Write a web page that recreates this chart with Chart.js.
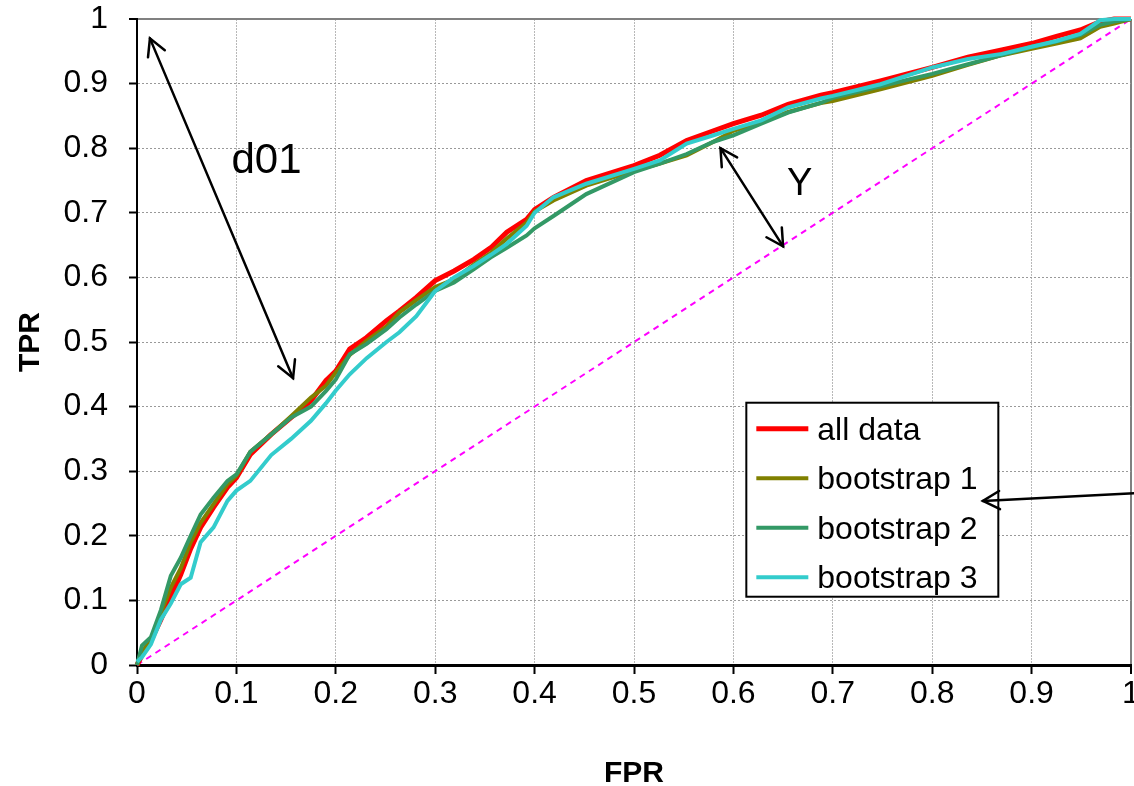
<!DOCTYPE html>
<html>
<head>
<meta charset="utf-8">
<script src="https://cdn.jsdelivr.net/npm/chart.js@4.4.1/dist/chart.umd.min.js"></script>
<style>
  html, body { margin: 0; padding: 0; background: #fff; }
  #wrap { width: 1134px; height: 786px; }
</style>
</head>
<body>
<div id="wrap"><canvas id="roc" width="1134" height="786"></canvas></div>
<script>
// FPR grid shared by the four ROC curves
const fpr = [0, 0.005, 0.014, 0.024, 0.034, 0.044, 0.054, 0.064, 0.077, 0.091, 0.1, 0.114, 0.135, 0.155, 0.175, 0.19, 0.2, 0.214, 0.231, 0.251, 0.264, 0.281, 0.3, 0.319, 0.339, 0.356, 0.372, 0.392, 0.4, 0.419, 0.452, 0.5, 0.526, 0.553, 0.58, 0.6, 0.628, 0.655, 0.688, 0.7, 0.748, 0.8, 0.836, 0.87, 0.9, 0.925, 0.949, 0.969, 0.983, 1];

const tprAll = [0, 0.015, 0.038, 0.07, 0.105, 0.14, 0.18, 0.213, 0.244, 0.275, 0.29, 0.326, 0.357, 0.383, 0.409, 0.44, 0.455, 0.489, 0.507, 0.533, 0.548, 0.569, 0.595, 0.61, 0.628, 0.646, 0.67, 0.69, 0.705, 0.724, 0.75, 0.773, 0.789, 0.812, 0.827, 0.838, 0.851, 0.868, 0.882, 0.886, 0.904, 0.925, 0.941, 0.952, 0.962, 0.973, 0.983, 0.996, 1, 1];
const tprBoot1 = [0, 0.02, 0.04, 0.08, 0.12, 0.15, 0.19, 0.22, 0.249, 0.28, 0.293, 0.33, 0.357, 0.385, 0.414, 0.432, 0.453, 0.48, 0.502, 0.524, 0.546, 0.565, 0.585, 0.597, 0.62, 0.638, 0.66, 0.685, 0.702, 0.719, 0.742, 0.765, 0.776, 0.789, 0.81, 0.827, 0.84, 0.856, 0.87, 0.873, 0.891, 0.912, 0.929, 0.944, 0.954, 0.962, 0.97, 0.988, 0.993, 1];
const tprBoot2 = [0, 0.03, 0.043, 0.085, 0.138, 0.166, 0.2, 0.233, 0.259, 0.285, 0.295, 0.33, 0.357, 0.383, 0.4, 0.424, 0.442, 0.481, 0.497, 0.52, 0.538, 0.558, 0.579, 0.592, 0.613, 0.631, 0.646, 0.665, 0.676, 0.695, 0.729, 0.763, 0.776, 0.791, 0.81, 0.82, 0.838, 0.855, 0.87, 0.878, 0.896, 0.915, 0.93, 0.944, 0.957, 0.965, 0.975, 0.991, 0.996, 1];
const tprBoot3 = [0.005, 0.012, 0.032, 0.07, 0.095, 0.125, 0.135, 0.19, 0.213, 0.254, 0.27, 0.285, 0.325, 0.35, 0.378, 0.405, 0.425, 0.45, 0.475, 0.5, 0.515, 0.54, 0.579, 0.6, 0.618, 0.635, 0.652, 0.68, 0.7, 0.724, 0.745, 0.768, 0.781, 0.807, 0.82, 0.83, 0.843, 0.863, 0.877, 0.881, 0.899, 0.925, 0.938, 0.946, 0.957, 0.966, 0.977, 0.998, 1, 1];

const diagX = [0, 1];
const diagY = [0, 1];

const seriesNames = ['all data', 'bootstrap 1', 'bootstrap 2', 'bootstrap 3'];
const seriesColors = ['#ff0000', '#808000', '#339966', '#33cccc'];
const seriesWidths = [5, 4, 4, 4];
const seriesTpr = [tprAll, tprBoot1, tprBoot2, tprBoot3];

const tickValues = [0, 0.1, 0.2, 0.3, 0.4, 0.5, 0.6, 0.7, 0.8, 0.9, 1];

function pts(xs, ys) {
    return xs.map((x, i) => ({ x: x, y: ys[i] }));
}

const datasets = seriesNames.map((name, i) => ({
    label: name,
    data: pts(fpr, seriesTpr[i]),
    borderColor: seriesColors[i],
    backgroundColor: seriesColors[i],
    borderWidth: seriesWidths[i],
    pointRadius: 0,
    tension: 0,
    clip: false,
    order: 4 - i
}));
datasets.push({
    label: 'random',
    data: pts(diagX, diagY),
    borderColor: '#ff00ff',
    borderWidth: 2,
    borderDash: [6, 5],
    pointRadius: 0,
    clip: false,
    order: 10
});

// arrows and labels, in data units
const arrows = [
    { from: [0.157, 0.444], to: [0.013, 0.97], both: true },
    { from: [0.65, 0.648], to: [0.587, 0.80], both: true },
    { from: [1.003, 0.266], to: [0.851, 0.254], both: false }
];
const notes = [
    { text: 'd01', at: [0.095, 0.762], size: 42 },
    { text: 'Y', at: [0.654, 0.728], size: 38 }
];

function head(ctx, x1, y1, x2, y2) {
    const a = Math.atan2(y2 - y1, x2 - x1);
    const len = 19, spread = 0.5;
    ctx.beginPath();
    ctx.moveTo(x2 - len * Math.cos(a - spread), y2 - len * Math.sin(a - spread));
    ctx.lineTo(x2, y2);
    ctx.lineTo(x2 - len * Math.cos(a + spread), y2 - len * Math.sin(a + spread));
    ctx.stroke();
}

const overlay = {
    id: 'overlay',
    afterDatasetsDraw(chart) {
        const ctx = chart.ctx;
        const xs = chart.scales.x, ys = chart.scales.y;
        ctx.save();

        // legend box
        const bx = xs.getPixelForValue(0.613), by = ys.getPixelForValue(0.406);
        const bw = 252, bh = 194;
        ctx.fillStyle = '#fff';
        ctx.fillRect(bx, by, bw, bh);
        ctx.strokeStyle = '#000';
        ctx.lineWidth = 2;
        ctx.strokeRect(bx, by, bw, bh);
        ctx.font = '32px "Liberation Sans", Arial, sans-serif';
        ctx.textBaseline = 'middle';
        seriesNames.forEach((name, i) => {
            const ry = by + 26 + i * 49.5;
            ctx.strokeStyle = seriesColors[i];
            ctx.lineWidth = seriesWidths[i];
            ctx.beginPath();
            ctx.moveTo(bx + 10, ry);
            ctx.lineTo(bx + 62, ry);
            ctx.stroke();
            ctx.fillStyle = '#000';
            ctx.fillText(name, bx + 71, ry + 2);
        });

        ctx.strokeStyle = '#000';
        ctx.lineWidth = 2.5;
        ctx.lineCap = 'round';
        arrows.forEach(a => {
            const x1 = xs.getPixelForValue(a.from[0]), y1 = ys.getPixelForValue(a.from[1]);
            const x2 = xs.getPixelForValue(a.to[0]), y2 = ys.getPixelForValue(a.to[1]);
            ctx.beginPath();
            ctx.moveTo(x1, y1);
            ctx.lineTo(x2, y2);
            ctx.stroke();
            head(ctx, x1, y1, x2, y2);
            if (a.both) head(ctx, x2, y2, x1, y1);
        });
        ctx.fillStyle = '#000';
        ctx.textBaseline = 'alphabetic';
        notes.forEach(n => {
            ctx.font = n.size + 'px "Liberation Sans", Arial, sans-serif';
            ctx.fillText(n.text, xs.getPixelForValue(n.at[0]), ys.getPixelForValue(n.at[1]));
        });
        ctx.restore();
    }
};

const tickFont = { family: '"Liberation Sans", Arial, sans-serif', size: 32 };
const titleFont = { family: '"Liberation Sans", Arial, sans-serif', size: 30, weight: 'bold', lineHeight: 1 };
const fmt = v => String(Math.round(v * 10) / 10);

new Chart(document.getElementById('roc').getContext('2d'), {
    type: 'line',
    data: { datasets: datasets },
    options: {
        responsive: false,
        animation: false,
        devicePixelRatio: 1,
        layout: { padding: { top: 19, right: 3, left: 0, bottom: 0 } },
        plugins: { legend: { display: false }, tooltip: { enabled: false } },
        scales: {
            x: {
                type: 'linear',
                min: 0,
                max: 1,
                afterBuildTicks: s => { s.ticks = tickValues.map(v => ({ value: v })); },
                afterFit: s => { s.height = 121; s.paddingLeft = 0; s.paddingRight = 0; },
                ticks: { font: tickFont, color: '#000', padding: 1, maxRotation: 0, autoSkip: false, callback: fmt },
                grid: {
                    color: c => c.tick && c.tick.value === 1 ? '#808080' : '#b8b8b8',
                    lineWidth: c => c.tick && c.tick.value === 1 ? 2 : 1,
                    tickColor: '#000',
                    tickLength: 9,
                    tickWidth: 2
                },
                border: { display: true, color: '#000', width: 3, dash: c => c.tick && c.tick.value === 1 ? [] : [2, 1] },
                title: { display: true, text: 'FPR', font: titleFont, color: '#000', padding: { top: 0, bottom: -3 } }
            },
            y: {
                type: 'linear',
                min: 0,
                max: 1,
                afterBuildTicks: s => { s.ticks = tickValues.map(v => ({ value: v })); },
                afterFit: s => { s.width = 137; s.paddingTop = 0; s.paddingBottom = 0; },
                ticks: { font: tickFont, color: '#000', padding: 21, autoSkip: false, callback: fmt },
                grid: {
                    color: c => c.tick && c.tick.value === 1 ? '#808080' : '#999999',
                    lineWidth: c => c.tick && c.tick.value === 1 ? 2 : 1,
                    tickColor: '#000',
                    tickLength: 8,
                    tickWidth: 2
                },
                border: { display: true, color: '#000', width: 2, dash: c => c.tick && c.tick.value === 1 ? [] : [2, 2] },
                title: { display: true, text: 'TPR', font: titleFont, color: '#000', padding: { top: 16, bottom: 0 } }
            }
        }
    },
    plugins: [overlay]
});
</script>
</body>
</html>
